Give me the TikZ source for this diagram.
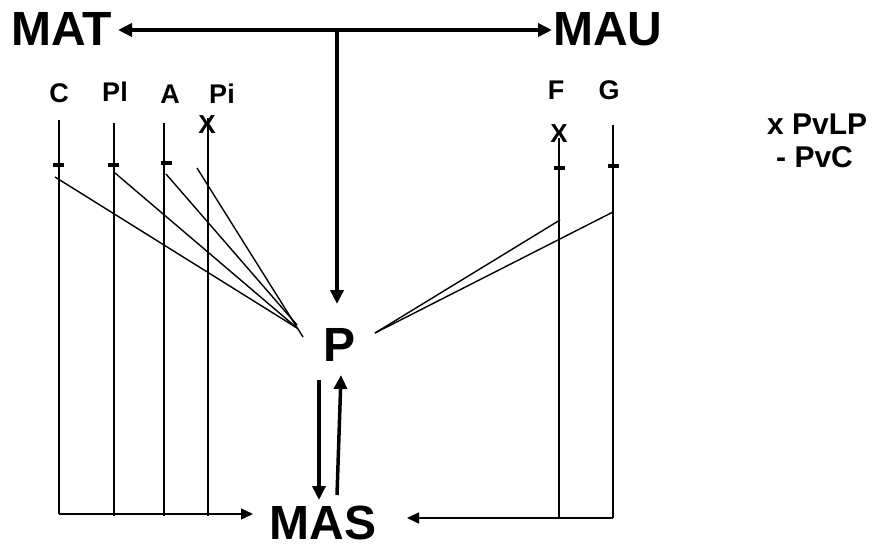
\documentclass[tikz,border=0pt]{standalone}
\usepackage{fontspec}
\setmainfont{Liberation Sans}
\usetikzlibrary{arrows.meta}
\begin{document}
\begin{tikzpicture}[x=1pt,y=-1pt,
  big/.style={font=\fontsize{48}{48}\selectfont\bfseries, inner sep=0pt},
  lbl/.style={font=\fontsize{27}{27}\selectfont\bfseries, inner sep=0pt},
  leg/.style={font=\fontsize{30}{30}\selectfont\bfseries, inner sep=0pt, anchor=west},
  xmark/.style={font=\fontsize{26}{26}\selectfont\bfseries, inner sep=0pt},
  thickarrow/.style={line width=3.5pt, -{Triangle[length=14pt,width=13pt]}},
  thinline/.style={line width=1.5pt},
  thinarrow/.style={line width=1.5pt, -{Triangle[length=12pt,width=11pt]}},
  tick/.style={line width=3.5pt},
  diag/.style={line width=1.4pt}
]
\useasboundingbox (0,0) rectangle (883,548);
% main nodes
\node[big] (mat) at (62,29) {MAT};
\node[big] (mau) at (608,29) {MAU};
\node[big] (p) at (340,345) {P};
\node[big] (mas) at (323,523) {MAS};
% labels
\node[lbl] (lc) at (59,93) {C};
\node[lbl] (lpl) at (115,92) {Pl};
\node[lbl] (la) at (170,94) {A};
\node[lbl] (lpi) at (222,94) {Pi};
\node[lbl] (lf) at (556,90) {F};
\node[lbl] (lg) at (609,90) {G};
% legend
\node[leg] (l1) at (767,124) {x PvLP};
\node[leg] (l2) at (776,157) {- PvC};
% top arrows
\coordinate (j) at (337,30);
\coordinate (jt) at (118,30);
\coordinate (ju) at (552,30);
\coordinate (pt) at (337,304);
\draw[thickarrow] (j) -- (jt);
\draw[thickarrow] (j) -- (ju);
\draw[thickarrow] (j) -- (pt);
% P <-> MAS
\coordinate (d1) at (319,380);
\coordinate (d2) at (319,500);
\coordinate (u1) at (337,495);
\coordinate (u2) at (341,375);
\draw[thickarrow] (d1) -- (d2);
\draw[thickarrow] (u1) -- (u2);
% left vertical lines
\coordinate (ctop) at (59,120);
\coordinate (plbot) at (114,516);
\coordinate (pltop) at (114,123);
\coordinate (atop) at (164,123);
\coordinate (abot) at (164,516);
\coordinate (pitop) at (208,118);
\coordinate (pibot) at (208,516);
\coordinate (lcorner) at (59,514);
\coordinate (larr) at (253,514);
\draw[thinline] (ctop) -- (lcorner);
\draw[thinline] (pltop) -- (plbot);
\draw[thinline] (atop) -- (abot);
\draw[thinline] (pitop) -- (pibot);
\draw[thinarrow] (lcorner) -- (larr);
\node[xmark] (xpi) at (207,125) {X};
% ticks left
\draw[tick] (53,165) -- (64,165);
\draw[tick] (108,165) -- (119,165);
\draw[tick] (161,163) -- (172,163);
% left diagonals
\coordinate (pl) at (297,328);
\draw[diag] (55,177) -- (pl);
\draw[diag] (115,173) -- (pl);
\draw[diag] (166,174) -- (297,325);
\draw[diag] (197,168) -- (303,337);
% right vertical lines
\coordinate (ftop) at (559,138);
\coordinate (fbot) at (559,518);
\coordinate (gtop) at (613,125);
\coordinate (gcorner) at (613,518);
\coordinate (rarr) at (407,518);
\draw[thinline] (ftop) -- (fbot);
\draw[thinline] (gtop) -- (gcorner);
\draw[thinarrow] (gcorner) -- (rarr);
\node[xmark] (xf) at (559,134) {X};
\draw[tick] (554,168) -- (565,168);
\draw[tick] (608,166) -- (619,166);
% right diagonals
\coordinate (pr) at (375,333);
\draw[diag] (560,220) -- (pr);
\draw[diag] (613,212) -- (pr);
\end{tikzpicture}
\end{document}
